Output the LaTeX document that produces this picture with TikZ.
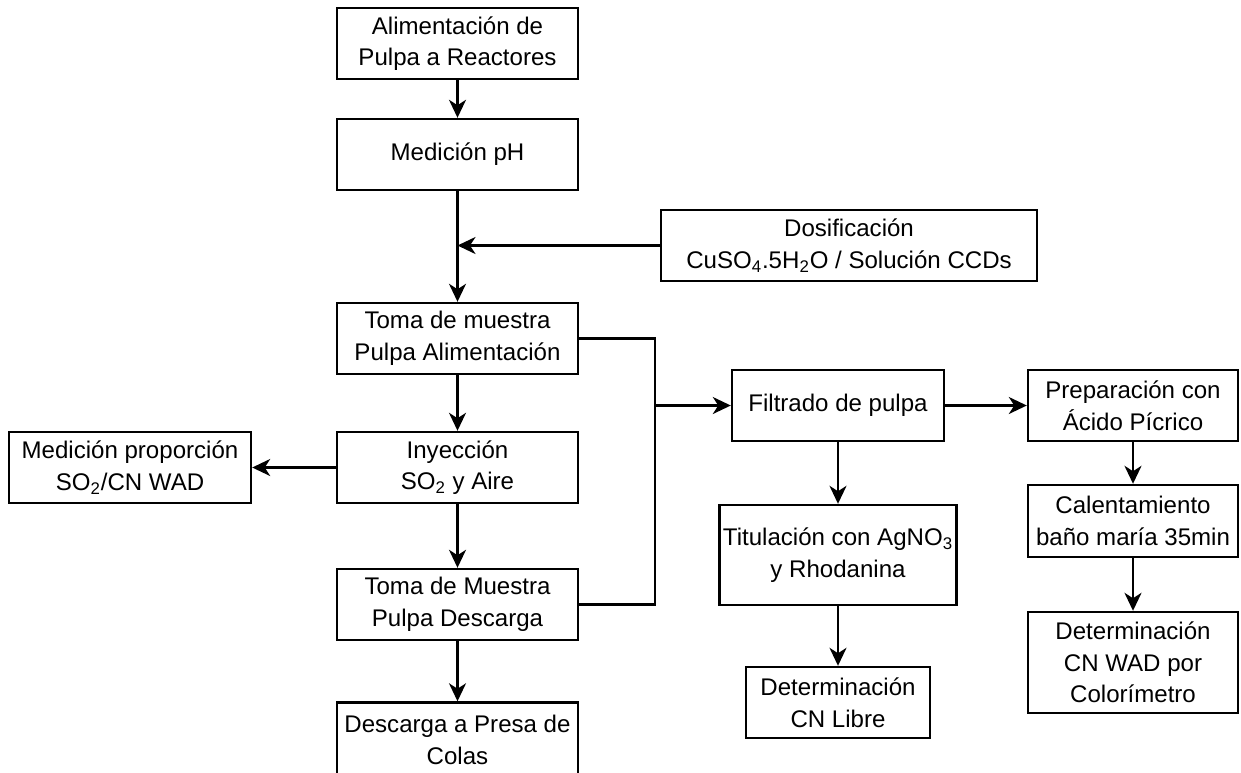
\documentclass[tikz,border=0pt]{standalone}
\usepackage{fontspec}
\setmainfont{Liberation Sans}
\usepackage{tikz}
\usetikzlibrary{arrows.meta, positioning, calc}
\tikzstyle{block} = [rectangle, draw, line width=1.4pt, align=center, minimum width=4.82cm, minimum height=1.42cm, inner sep=2pt, font=\fontsize{13.7}{18}\selectfont]
\tikzstyle{arrow} = [-{Stealth[length=3.6mm, width=3.4mm, inset=1.1mm]}, line width=1.4pt]
\tikzstyle{line} = [line width=1.4pt]

\begin{document}
\begin{tikzpicture}[x=0.02cm, y=-0.02cm]
  \useasboundingbox (0,0) rectangle (1241,772);
  % main column
  \node[block] (alim) at (457.5,43.5) {Alimentación de\\Pulpa a Reactores};
  \node[block] (ph) at (457.5,154.5) {Medición pH};
  \node[block, minimum width=7.52cm] (dosif) at (849,245.5) {Dosificación\\CuSO\textsubscript{4}.5H\textsubscript{2}O / Solución CCDs};
  \node[block] (toma1) at (457.5,338.5) {Toma de muestra\\Pulpa Alimentación};
  \node[block] (iny) at (457.5,467.5) {Inyección\\SO\textsubscript{2} y Aire};
  \node[block, minimum width=4.84cm] (prop) at (130,467.5) {Medición proporción\\SO\textsubscript{2}/CN WAD};
  \node[block] (toma2) at (457.5,604.5) {Toma de Muestra\\Pulpa Descarga};
  \node[block, minimum height=1.5cm] (presa) at (457.5,740) {Descarga a Presa de\\Colas};

  % laboratorio
  \node[block, minimum width=4.24cm] (filtr) at (838,405.5) {Filtrado de pulpa};
  \node[block, minimum width=4.72cm, minimum height=2cm] (titul) at (838,555) {Titulación con AgNO\textsubscript{3}\\y Rhodanina};
  \node[block, minimum width=3.68cm] (libre) at (838,702.5) {Determinación\\CN Libre};
  \node[block, minimum width=4.2cm] (prep) at (1133,405.5) {Preparación con\\Ácido Pícrico};
  \node[block, minimum width=4.2cm, minimum height=1.44cm] (calent) at (1133,521) {Calentamiento\\baño maría 35min};
  \node[block, minimum width=4.2cm, minimum height=2.02cm] (wad) at (1133,662.5) {Determinación\\CN WAD por\\Colorímetro};

  \coordinate (dosin) at (457.5,245.5);
  \coordinate (bustop) at (655,338.5);
  \coordinate (busmid) at (655,405.5);
  \coordinate (busbot) at (655,604.5);

  \draw[arrow] (alim) -- (ph);
  \draw[arrow] (ph) -- (toma1);
  \draw[arrow] (dosif) -- (dosin);
  \draw[arrow] (toma1) -- (iny);
  \draw[arrow] (iny) -- (prop);
  \draw[arrow] (iny) -- (toma2);
  \draw[arrow] (toma2) -- (presa);
  \draw[line] (toma1.east) -- (bustop) -- (busbot) -- (toma2.east);
  \draw[arrow] (busmid) -- (filtr);
  \draw[arrow] (filtr) -- (titul);
  \draw[arrow] (titul) -- (libre);
  \draw[arrow] (filtr) -- (prep);
  \draw[arrow] (prep) -- (calent);
  \draw[arrow] (calent) -- (wad);
\end{tikzpicture}
\end{document}
